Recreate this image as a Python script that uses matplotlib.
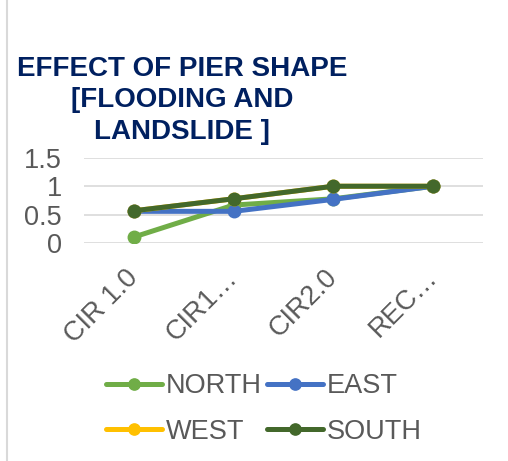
import matplotlib.pyplot as plt
from matplotlib.lines import Line2D

# categories and series
categories = ["CIR 1.0", "CIR1…", "CIR2.0", "REC…"]
north = [0.11, 0.67, 0.78, 1.0]
east = [0.56, 0.56, 0.77, 1.0]
west = [0.57, 0.78, 1.0, 1.0]
south = [0.57, 0.78, 1.0, 1.0]
series_names = ["NORTH", "EAST", "WEST", "SOUTH"]
series_colors = ["#70AD47", "#4472C4", "#FFC000", "#43682B"]

plt.rcParams['font.family'] = ['Liberation Sans', 'DejaVu Sans']

fig = plt.figure(figsize=(5.08, 4.61), dpi=100)
ax = fig.add_axes([84/508, 1-243.3/461, (483-84)/508, (243.3-157.7)/461])

x = list(range(len(categories)))
lines = {}
for name, vals, col in zip(series_names, [north, east, west, south], series_colors):
	lines[name], = ax.plot(x, vals, color=col, lw=3.6, marker='o', markersize=9, label=name,
		solid_capstyle='round')

ax.set_xlim(-0.5, len(categories)-0.5)
ax.set_ylim(0, 1.5)
ax.set_yticks([0, 0.5, 1, 1.5])
ax.set_yticklabels(["0", "0.5", "1", "1.5"])
ax.set_xticks(x)
ax.set_xticklabels(categories, rotation=45, ha='right', va='center', rotation_mode='anchor')
ax.tick_params(length=0, labelsize=19.5, labelcolor='#595959')
ax.tick_params(axis='y', pad=16)
ax.tick_params(axis='x', pad=22)
ax.grid(axis='y', color='#D9D9D9', lw=1.2)
ax.set_axisbelow(True)
for s in ax.spines.values():
	s.set_visible(False)

fig.text(182/508, 1-56/461, "EFFECT OF PIER SHAPE\n[FLOODING AND\nLANDSLIDE ]",
	ha='center', va='top', fontsize=20, fontweight='bold', color='#002060', linespacing=1.27)

# row order in the legend: NORTH EAST / WEST SOUTH
order = ["NORTH", "WEST", "EAST", "SOUTH"]
fig.legend([lines[n] for n in order], order, loc='center', bbox_to_anchor=(264/508, 1-409/461),
	ncol=2, frameon=False, fontsize=19.5, labelcolor='#595959', handlelength=2.05,
	handletextpad=0.15, columnspacing=0.2, labelspacing=0.72, markerscale=0.9)

fig.add_artist(Line2D([7/508, 7/508], [0, 1], color='#D9D9D9', lw=1.5))

plt.savefig("out.png")
